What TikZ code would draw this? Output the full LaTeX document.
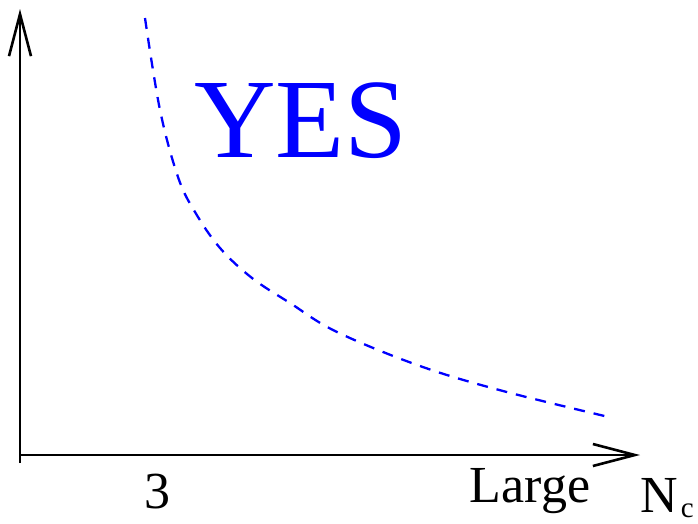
\documentclass[tikz,border=0pt]{standalone}
\usepackage{fontspec}
\setmainfont{Liberation Serif}
\newfontfamily\tnr{Liberation Serif}
\usetikzlibrary{arrows.meta}
\begin{document}
\begin{tikzpicture}[x=1pt,y=-1pt,
  axis/.style={line width=2.8pt,-{Straight Barb[length=42pt,width=22pt,line width=2.6pt]}},
  curve/.style={blue,line width=2.3pt,dash pattern=on 11pt off 9pt},
  lbl/.style={inner sep=0pt,anchor=base,font=\tnr\fontsize{52}{52}\selectfont},
  big/.style={inner sep=0pt,anchor=base,text=blue,font=\tnr\fontsize{113}{113}\selectfont}]
\useasboundingbox (0,0) rectangle (698,523);
\coordinate (O) at (20,455);
\coordinate (Ob) at (20,463);
\coordinate (ytip) at (20,9);
\coordinate (xtip) at (640,455);
\draw[axis] (Ob) -- (ytip);
\draw[axis] (O) -- (xtip);
\draw[curve] plot[smooth,tension=0.6] coordinates {(145,18) (160,110) (178,177) (195,212) (220,248) (252,278) (290,303) (337,332) (420,366) (503,391) (613,418)};
\node[lbl] (yes) [big] at (301,157) {YES};
\node[lbl] (three) at (157,508) {3};
\node[lbl] (large) at (530,502) {Large};
\node[lbl] (nc) at (667,512) {N\kern3pt{\fontsize{29}{29}\selectfont\raisebox{-5pt}{c}}};
\end{tikzpicture}
\end{document}
